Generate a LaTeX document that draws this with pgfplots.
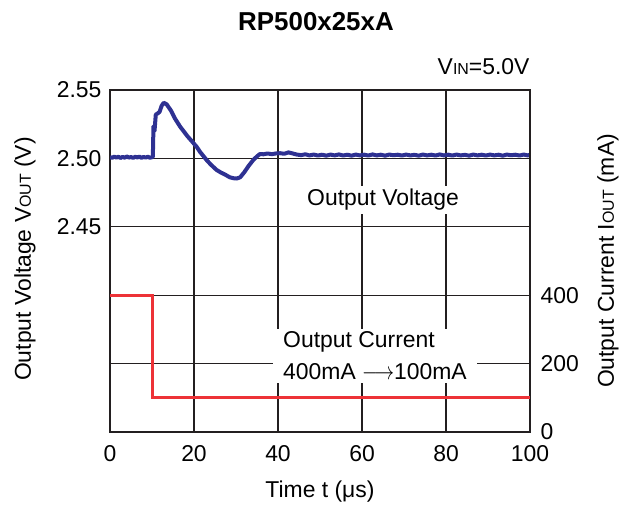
\documentclass[border=0pt]{standalone}
\usepackage{fontspec}
\setmainfont{Liberation Sans}
\usepackage{pgfplots}
\pgfplotsset{compat=1.18}
\definecolor{vblue}{RGB}{46,49,146}
\definecolor{ired}{RGB}{237,50,55}
\definecolor{gridc}{RGB}{35,31,32}
\newcommand{\sm}[1]{{\fontsize{16}{16}\selectfont #1}}

% output voltage trace (V) vs time (us)
\pgfplotstableread{
t v
0 2.5010
0.5 2.5004
1 2.5013
1.5 2.5006
2 2.5012
2.5 2.5003
3 2.5011
3.5 2.5005
4 2.5014
4.5 2.5006
5 2.5010
5.5 2.5004
6 2.5012
6.5 2.5007
7 2.5013
7.5 2.5004
8 2.5011
8.5 2.5006
9 2.5012
9.5 2.5005
10.2 2.5010
10.35 2.5235
10.6 2.5200
10.9 2.5320
11.4 2.5330
11.8 2.5340
12.3 2.5385
12.8 2.5407
13.5 2.5395
14.5 2.5350
15.5 2.5290
16.7 2.5232
17.5 2.5200
18.5 2.5160
19.5 2.5125
20.6 2.5086
21.5 2.5045
22.3 2.5015
23.0 2.4988
24.0 2.4955
25.4 2.4915
26.5 2.4895
27.5 2.4880
28.5 2.4862
29.4 2.4855
30.2 2.4853
31.0 2.4862
32.0 2.4900
33.0 2.4945
34.1 2.4988
35.0 2.5015
35.7 2.5032
36.5 2.5030
37.5 2.5036
38.5 2.5031
39.5 2.5036
40.5 2.5038
41.5 2.5034
42.5 2.5044
43.5 2.5036
44.5 2.5028
45.5 2.5024
46.5 2.5030
47.5 2.5022
48.5 2.5028
49.5 2.5021
50.5 2.5027
51.5 2.5020
52.5 2.5028
53.5 2.5022
54.5 2.5029
55.5 2.5021
56.5 2.5027
57.5 2.5020
58.5 2.5028
59.5 2.5022
60.5 2.5027
61.5 2.5021
62.5 2.5029
63.5 2.5022
64.5 2.5027
65.5 2.5020
66.5 2.5028
67.5 2.5023
68.5 2.5027
69.5 2.5021
70.5 2.5028
71.5 2.5022
72.5 2.5026
73.5 2.5020
74.5 2.5028
75.5 2.5022
76.5 2.5027
77.5 2.5021
78.5 2.5029
79.5 2.5022
80.5 2.5027
81.5 2.5021
82.5 2.5028
83.5 2.5022
84.5 2.5026
85.5 2.5020
86.5 2.5028
87.5 2.5022
88.5 2.5027
89.5 2.5021
90.5 2.5028
91.5 2.5022
92.5 2.5027
93.5 2.5020
94.5 2.5028
95.5 2.5023
96.5 2.5027
97.5 2.5021
98.5 2.5028
99.5 2.5022
100 2.5026
}\vout

\begin{document}
\begin{tikzpicture}
\path[use as bounding box] (0,0) rectangle (631bp,-508bp);

\begin{axis}[
  at={(110bp,-432bp)}, anchor=south west,
  scale only axis, width=420bp, height=342bp,
  xmin=0, xmax=100, ymin=2.30, ymax=2.55,
  xtick={0,20,40,60,80,100},
  ytick={2.30,2.35,2.40,2.45,2.50,2.55},
  yticklabels={,,,2.45,2.50,2.55},
  grid=major,
  major grid style={line width=1.2bp, draw=gridc},
  axis line style={line width=1.5bp, draw=gridc},
  major tick length=0pt,
  tick label style={font=\fontsize{23}{23}\selectfont},
  /pgf/number format/assume math mode=true,
  xticklabel style={yshift=-10bp},
  yticklabel style={xshift=-5bp},
]
\addplot[vblue, line width=4bp, line join=round] table[x=t, y=v] {\vout};
\end{axis}

\begin{axis}[
  at={(110bp,-432bp)}, anchor=south west,
  scale only axis, width=420bp, height=342bp,
  xmin=0, xmax=100, ymin=0, ymax=1000,
  hide x axis,
  axis y line*=right,
  ytick={0,200,400},
  major tick length=0pt,
  axis line style={line width=1.5bp, draw=gridc},
  tick label style={font=\fontsize{23}{23}\selectfont},
  /pgf/number format/assume math mode=true,
  yticklabel style={xshift=7bp},
]
\addplot[ired, line width=3bp] coordinates {(0,400) (10,400) (10,100) (100,100)};
\end{axis}

\node[font=\fontsize{26}{26}\selectfont\bfseries] at (316bp,-22bp) {RP500x25xA};
\node[anchor=east, font=\fontsize{23}{23}\selectfont] at (533bp,-67bp) {V\sm{IN}=5.0V};
\node[rotate=90, font=\fontsize{23}{23}\selectfont] at (25bp,-259bp) {Output Voltage V\sm{OUT} (V)};
\node[rotate=90, font=\fontsize{23}{23}\selectfont] at (608bp,-261bp) {Output Current I\sm{OUT} (mA)};
\node[font=\fontsize{23}{23}\selectfont] at (320bp,-492bp) {Time t (μs)};
\node[fill=white, font=\fontsize{23}{23}\selectfont] at (383bp,-200bp) {Output Voltage};
\node[fill=white, align=left, inner xsep=10bp, font=\fontsize{23}{32}\selectfont] at (375bp,-356bp)
  {Output Current\\400mA \scalebox{0.8}[1]{$\longrightarrow$}100mA};
\end{tikzpicture}
\end{document}
